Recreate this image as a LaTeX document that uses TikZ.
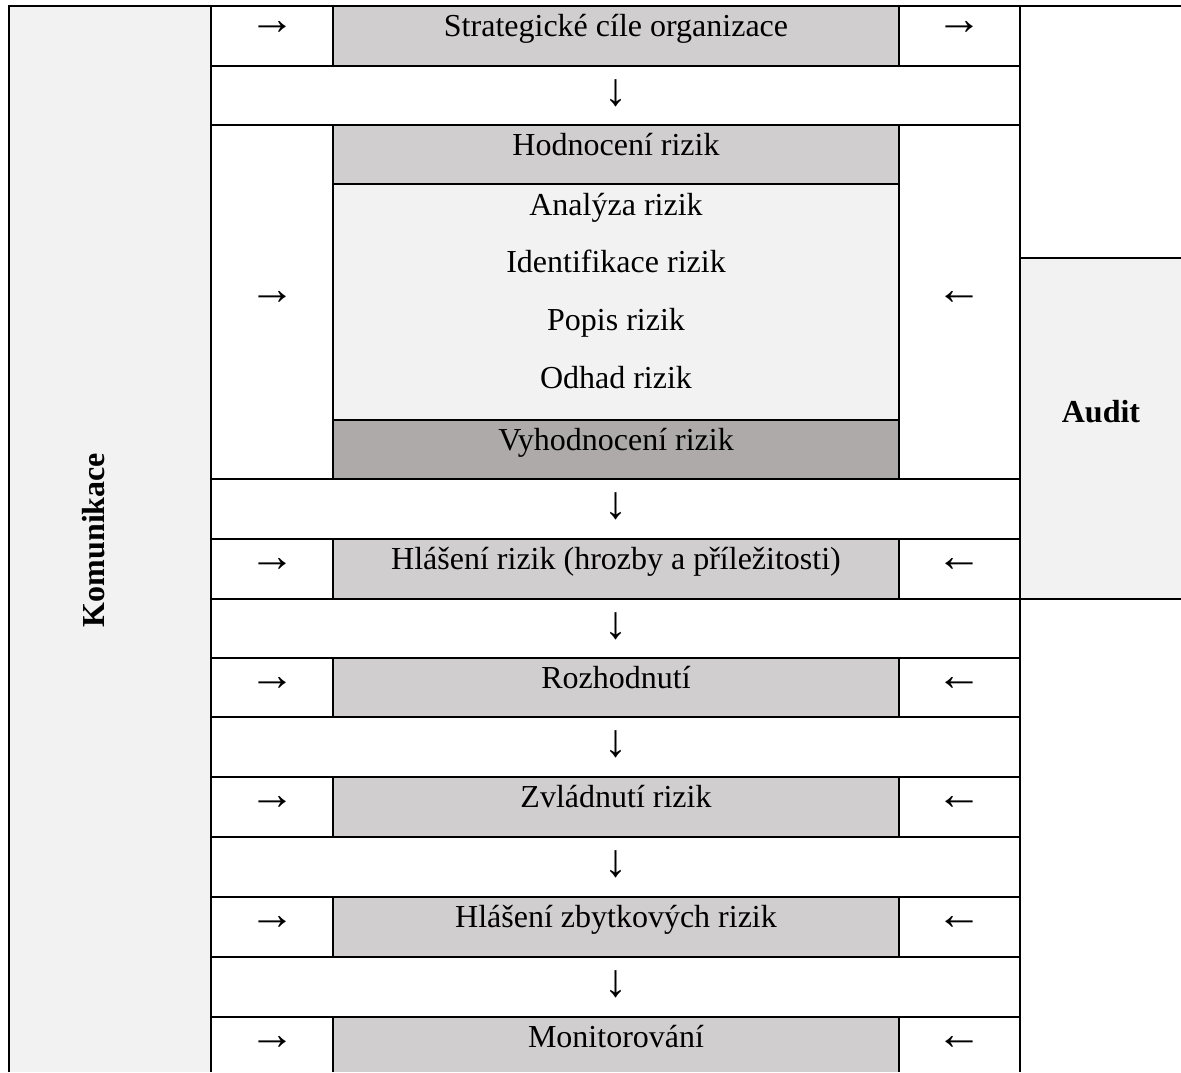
\documentclass[tikz,border=0pt]{standalone}
\usepackage{fontspec}
\setmainfont{Liberation Serif}
\definecolor{lightfill}{HTML}{F2F2F2}
\definecolor{midfill}{HTML}{D0CECE}
\definecolor{darkfill}{HTML}{AEAAAA}
\begin{document}
\begin{tikzpicture}[x=1pt,y=-1pt,line width=1.6pt,
  txt/.style={font=\fontsize{32}{38}\selectfont, anchor=base, inner sep=0pt},
  btxt/.style={font=\fontsize{32}{38}\selectfont\bfseries, inner sep=0pt},
  arr/.style={font=\fontsize{46}{50}\selectfont, anchor=center, inner sep=0pt},
  rule/.style={draw=black, line width=1.6pt}]
\useasboundingbox (0,0) rectangle (1181,1072);
\fill[white] (0,0) rectangle (1181,1072);
% fills
\fill[lightfill] (9,6) rectangle (211,1072);
\fill[lightfill] (1020,258) rectangle (1181,599);
\foreach \t/\b in {6/66,539/599,658/717,777/837,897/957,1017/1072}
  \fill[midfill] (333,\t) rectangle (899,\b);
\fill[midfill] (333,125) rectangle (899,184);
\fill[lightfill] (333,184) rectangle (899,420);
\fill[darkfill] (333,420) rectangle (899,479);
% rules
\draw[rule] (9,1072) -- (9,6) -- (1181,6);
\draw[rule] (211,6) -- (211,1072);
\draw[rule] (1020,6) -- (1020,1072);
\foreach \y in {66,125,479,539,599,658,717,777,837,897,957,1017}
  \draw[rule] (211,\y) -- (1020,\y);
\draw[rule] (333,184) -- (899,184);
\draw[rule] (333,420) -- (899,420);
\draw[rule] (1020,258) -- (1181,258);
\draw[rule] (1020,599) -- (1181,599);
\foreach \t/\b in {6/66,125/479,539/599,658/717,777/837,897/957,1017/1072}{
  \draw[rule] (333,\t) -- (333,\b);
  \draw[rule] (899,\t) -- (899,\b);
}
% side labels
\node[btxt, rotate=90, anchor=center] (komunikace) at (93.5,540) {Komunikace};
\node[btxt, anchor=base] (audit) at (1101,422) {Audit};
% row 1
\node[txt] (strat) at (616,36) {Strategické cíle organizace};
\node[arr] (a1l) at (272,28) {→};
\node[arr] (a1r) at (959.5,28) {→};
\node[arr] (d1) at (615.5,93) {↓};
% assessment block
\node[txt] (hodn) at (616,155) {Hodnocení rizik};
\node[txt] (anal) at (616,215) {Analýza rizik};
\node[txt] (ident) at (616,272) {Identifikace rizik};
\node[txt] (popis) at (616,330) {Popis rizik};
\node[txt] (odhad) at (616,388) {Odhad rizik};
\node[txt] (vyhodn) at (616,450) {Vyhodnocení rizik};
\node[arr] (a2l) at (272,298) {→};
\node[arr] (a2r) at (959.5,298) {←};
\node[arr] (d2) at (615.5,506) {↓};
% later rows
\node[txt] (hlas) at (616,569) {Hlášení rizik (hrozby a příležitosti)};
\node[arr] (a3l) at (272,564.5) {→};
\node[arr] (a3r) at (959.5,564.5) {←};
\node[arr] (d3) at (615.5,626) {↓};
\node[txt] (rozh) at (616,688) {Rozhodnutí};
\node[arr] (a4l) at (272,683.5) {→};
\node[arr] (a4r) at (959.5,683.5) {←};
\node[arr] (d4) at (615.5,744) {↓};
\node[txt] (zvl) at (616,807) {Zvládnutí rizik};
\node[arr] (a5l) at (272,802.5) {→};
\node[arr] (a5r) at (959.5,802.5) {←};
\node[arr] (d5) at (615.5,864) {↓};
\node[txt] (zbyt) at (616,927) {Hlášení zbytkových rizik};
\node[arr] (a6l) at (272,922.5) {→};
\node[arr] (a6r) at (959.5,922.5) {←};
\node[arr] (d6) at (615.5,984) {↓};
\node[txt] (monit) at (616,1047) {Monitorování};
\node[arr] (a7l) at (272,1042.5) {→};
\node[arr] (a7r) at (959.5,1042.5) {←};
\end{tikzpicture}
\end{document}
